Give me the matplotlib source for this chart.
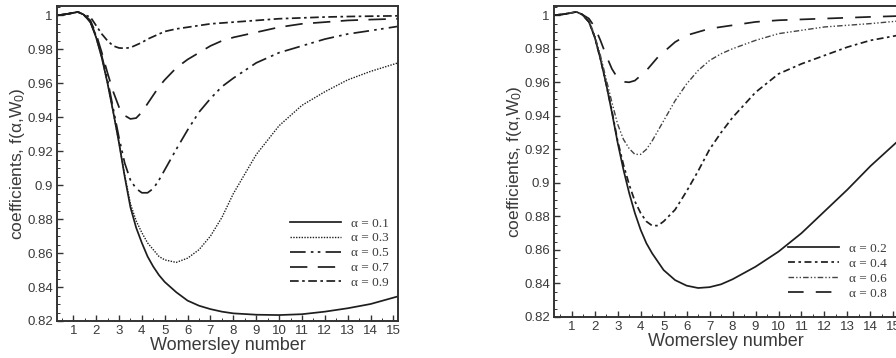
import matplotlib
matplotlib.use("Agg")
import matplotlib.pyplot as plt
from matplotlib.ticker import MultipleLocator, FixedLocator

# ---------------- data (left panel) ----------------
x_left = [0.29, 0.6, 0.9, 1.2, 1.45, 1.75, 2.0, 2.25, 2.5, 2.75, 3.0, 3.25, 3.5, 3.75, 4.0, 4.25,
          4.5, 4.75, 5.0, 5.5, 6.0, 6.5, 7.0, 7.5, 8.0, 9.0, 10.0, 11.0, 12.0, 13.0, 14.0, 15.2]
a01 = [1.0, 1.0005, 1.0012, 1.002, 1.0005, 0.996, 0.987, 0.975, 0.960, 0.943, 0.925, 0.905, 0.887, 0.875,
       0.866, 0.858, 0.852, 0.847, 0.843, 0.837, 0.832, 0.829, 0.827, 0.8255, 0.8245, 0.8237, 0.8235,
       0.824, 0.8255, 0.8275, 0.830, 0.8345]
a03 = [1.0, 1.0005, 1.0012, 1.002, 1.0005, 0.996, 0.987, 0.975, 0.960, 0.943, 0.925, 0.906, 0.889, 0.879,
       0.872, 0.866, 0.862, 0.858, 0.856, 0.8545, 0.857, 0.862, 0.870, 0.881, 0.895, 0.918, 0.935,
       0.947, 0.955, 0.962, 0.967, 0.972]
a05 = [1.0, 1.0005, 1.0012, 1.002, 1.0005, 0.996, 0.988, 0.976, 0.962, 0.945, 0.928, 0.913, 0.903, 0.898,
       0.8955, 0.8955, 0.898, 0.903, 0.909, 0.921, 0.9325, 0.943, 0.951, 0.958, 0.963, 0.972, 0.978,
       0.982, 0.986, 0.989, 0.991, 0.9935]
a07 = [1.0, 1.0005, 1.0012, 1.002, 1.0005, 0.997, 0.989, 0.978, 0.966, 0.955, 0.946, 0.941, 0.939, 0.9395,
       0.943, 0.948, 0.953, 0.958, 0.962, 0.969, 0.974, 0.978, 0.982, 0.985, 0.987, 0.990, 0.993,
       0.995, 0.996, 0.997, 0.9975, 0.998]
a09 = [1.0, 1.0005, 1.0012, 1.002, 1.0005, 0.999, 0.994, 0.989, 0.985, 0.982, 0.9808, 0.9806, 0.981, 0.9825,
       0.984, 0.986, 0.9875, 0.989, 0.9905, 0.992, 0.993, 0.994, 0.995, 0.9955, 0.996, 0.997, 0.998,
       0.9985, 0.999, 0.9993, 0.9995, 0.9997]
labels_left = ["α = 0.1", "α = 0.3", "α = 0.5", "α = 0.7", "α = 0.9"]

# ---------------- data (right panel) ----------------
x_right = [0.23, 0.6, 0.9, 1.2, 1.45, 1.75, 2.0, 2.25, 2.5, 2.75, 3.0, 3.25, 3.5, 3.75, 4.0, 4.25,
           4.5, 4.75, 5.0, 5.5, 6.0, 6.5, 7.0, 7.5, 8.0, 9.0, 10.0, 11.0, 12.0, 13.0, 14.0, 15.2]
a02 = [1.0, 1.0005, 1.0012, 1.002, 1.0005, 0.996, 0.987, 0.974, 0.959, 0.942, 0.924, 0.908, 0.894, 0.882,
       0.872, 0.864, 0.858, 0.853, 0.848, 0.842, 0.8387, 0.8373, 0.8378, 0.8395, 0.8425, 0.850, 0.859,
       0.870, 0.883, 0.896, 0.910, 0.925]
a04 = [1.0, 1.0005, 1.0012, 1.002, 1.0005, 0.996, 0.987, 0.974, 0.959, 0.943, 0.925, 0.911, 0.899, 0.889,
       0.882, 0.877, 0.8745, 0.8745, 0.877, 0.884, 0.895, 0.907, 0.920, 0.930, 0.939, 0.954, 0.965,
       0.971, 0.976, 0.981, 0.985, 0.988]
a06 = [1.0, 1.0005, 1.0012, 1.002, 1.0005, 0.997, 0.988, 0.976, 0.962, 0.948, 0.935, 0.926, 0.9205, 0.917,
       0.917, 0.920, 0.925, 0.931, 0.937, 0.949, 0.959, 0.967, 0.973, 0.977, 0.980, 0.985, 0.989,
       0.991, 0.993, 0.994, 0.995, 0.9965]
a08 = [1.0, 1.0005, 1.0012, 1.002, 1.0005, 0.998, 0.993, 0.985, 0.976, 0.968, 0.9625, 0.9603, 0.960, 0.961,
       0.964, 0.967, 0.971, 0.975, 0.978, 0.984, 0.988, 0.990, 0.992, 0.993, 0.994, 0.996, 0.997,
       0.9975, 0.998, 0.9985, 0.999, 0.9995]
labels_right = ["α = 0.2", "α = 0.4", "α = 0.6", "α = 0.8"]

xticks = list(range(1, 16))
yticks = [0.82, 0.84, 0.86, 0.88, 0.9, 0.92, 0.94, 0.96, 0.98, 1.0]
ytick_labels = ["0.82", "0.84", "0.86", "0.88", "0.9", "0.92", "0.94", "0.96", "0.98", "1"]

col = "#1e1e1e"
txtcol = "#3a3a3a"
plt.rcParams["font.family"] = ["Liberation Sans", "DejaVu Sans"]
plt.rcParams["mathtext.fontset"] = "custom"
plt.rcParams["mathtext.rm"] = "Liberation Sans"
plt.rcParams["mathtext.it"] = "Liberation Sans"

fig = plt.figure(figsize=(8.96, 3.58), dpi=100)
W, H = 896, 358


def make_axes(l, t, r, b):
    return fig.add_axes([l / W, 1 - b / H, (r - l) / W, (b - t) / H])


def style(ax, xmin):
    ax.set_xlim(xmin, 15.2)
    ax.set_ylim(0.82, 1.0055)
    ax.xaxis.set_major_locator(FixedLocator(xticks))
    ax.xaxis.set_minor_locator(MultipleLocator(0.5))
    ax.set_yticks(yticks)
    ax.set_yticklabels(ytick_labels)
    ax.yaxis.set_minor_locator(MultipleLocator(0.005))
    ax.tick_params(which="both", direction="in", top=False, right=False, colors="#333333",
                   labelsize=9.5, labelcolor=txtcol)
    ax.tick_params(which="major", length=4, width=1.0)
    ax.tick_params(which="minor", length=2, width=0.7)
    ax.tick_params(axis="x", pad=3)
    ax.tick_params(axis="y", pad=3)
    for s in ax.spines.values():
        s.set_linewidth(1.4)
        s.set_color("#333333")
    ax.set_xlabel("Womersley number", fontsize=13, color=txtcol, labelpad=0)
    ax.set_ylabel(r"coefficients, f($\alpha$,W$_0$)", fontsize=12.5, color=txtcol, labelpad=0)


lw = 1.25
leg_kw = dict(frameon=False, prop={"family": "Liberation Serif", "size": 9.5},
              handlelength=3.9, handletextpad=0.75, labelspacing=0.2,
              borderaxespad=0, borderpad=0, loc="upper left")

axL = make_axes(57, 6, 398, 321)
style(axL, 0.29)
axL.plot(x_left, a01, color=col, lw=lw, ls="-", label=labels_left[0])
axL.plot(x_left, a03, color=col, lw=1.0, ls=(0, (1, 1)), label=labels_left[1])
axL.plot(x_left, a05, color=col, lw=lw, ls=(0, (9, 3, 1.5, 2.5, 1.5, 3)), label=labels_left[2])
axL.plot(x_left, a07, color=col, lw=lw, ls=(0, (10, 6)), label=labels_left[3])
axL.plot(x_left, a09, color=col, lw=lw, ls=(0, (5, 2, 1.5, 2)), label=labels_left[4])
legL = axL.legend(bbox_to_anchor=(0.683, 0.329), **leg_kw)
for t in legL.get_texts():
    t.set_color(txtcol)

axR = make_axes(554, 6, 898, 317)
style(axR, 0.23)
axR.plot(x_right, a02, color=col, lw=lw, ls="-", label=labels_right[0])
axR.plot(x_right, a04, color=col, lw=lw, ls=(0, (4, 2, 1.5, 2)), label=labels_right[1])
axR.plot(x_right, a06, color="#444444", lw=1.0, ls=(0, (4, 1.5, 1, 1.5, 1, 1.5)), label=labels_right[2])
axR.plot(x_right, a08, color=col, lw=lw, ls=(0, (9, 7)), label=labels_right[3])
legR = axR.legend(bbox_to_anchor=(0.680, 0.239), **leg_kw)
for t in legR.get_texts():
    t.set_color(txtcol)

fig.savefig("out.png", dpi=100)
